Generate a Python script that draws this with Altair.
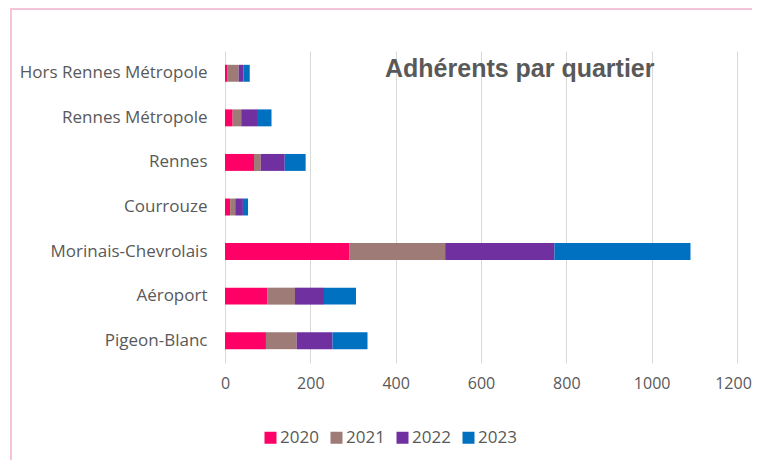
import altair as alt
import pandas as pd

quartiers = ["Hors Rennes Métropole", "Rennes Métropole", "Rennes", "Courrouze",
             "Morinais-Chevrolais", "Aéroport", "Pigeon-Blanc"]
years = ["2020", "2021", "2022", "2023"]
v2020 = [5, 18, 68, 12, 292, 99, 96]
v2021 = [27, 20, 16, 12, 224, 65, 72]
v2022 = [11, 37, 56, 18, 256, 68, 84]
v2023 = [15, 34, 49, 12, 319, 75, 82]
colors = ["#FF0066", "#9E7B76", "#7030A0", "#0070C0"]
x_ticks = [0, 200, 400, 600, 800, 1000, 1200]
title_text = ["Adhérents par quartier"]

rows = []
for yi, (y, vals) in enumerate(zip(years, [v2020, v2021, v2022, v2023])):
    for q, v in zip(quartiers, vals):
        rows.append({"quartier": q, "annee": y, "valeur": v, "ordre": yi})
df = pd.DataFrame(rows)

GRAY = "#595959"
PINK = "#F5C4D8"
FONT = "Open Sans"
W, H = 512, 312
PAD_R = 15

bars = alt.Chart(df).mark_bar().encode(
    y=alt.Y("quartier:N", sort=quartiers, title=None,
            scale=alt.Scale(paddingInner=0.62, paddingOuter=0.31),
            axis=alt.Axis(ticks=False, domain=False, grid=False, labelFontSize=17,
                          labelColor=GRAY, labelFont=FONT, labelPadding=18,
                          labelLimit=300)),
    x=alt.X("valeur:Q", stack="zero", title=None,
            scale=alt.Scale(domain=[0, 1200], nice=False),
            axis=alt.Axis(values=x_ticks, format="d", ticks=False, domain=False,
                          grid=True, gridColor="#D9D9D9", gridWidth=1,
                          labelFontSize=16, labelColor=GRAY, labelFont=FONT,
                          labelPadding=12, labelFlush=False,
                          labelOffset={"condition": {"test": "datum.value == 1200", "value": -4},
                                       "value": 0})),
    color=alt.Color("annee:N", scale=alt.Scale(domain=years, range=colors),
                    legend=alt.Legend(title=None, orient="none", direction="horizontal",
                                      legendX=37, legendY=378, symbolType="square",
                                      symbolSize=144, symbolStrokeWidth=0,
                                      labelFontSize=17, labelColor=GRAY,
                                      labelFont=FONT, columnPadding=9,
                                      labelOffset=1)),
    order=alt.Order("ordre:Q"),
)

title = alt.Chart(pd.DataFrame({"t": title_text})).mark_text(
    align="left", baseline="alphabetic", fontSize=25, font="Liberation Sans",
    fontWeight="bold", color=GRAY
).encode(text="t:N", x=alt.value(160), y=alt.value(26))

frame_top = alt.Chart(pd.DataFrame({"k": [0]})).mark_rule(
    color=PINK, strokeWidth=2
).encode(x=alt.value(-215), x2=alt.value(W + PAD_R), y=alt.value(-42))

frame_left = alt.Chart(pd.DataFrame({"k": [0]})).mark_rule(
    color=PINK, strokeWidth=2
).encode(x=alt.value(-214), y=alt.value(-43), y2=alt.value(H + 97))

chart = alt.layer(frame_top, frame_left, bars, title).properties(
    width=W, height=H,
    padding={"left": 217, "top": 43, "right": PAD_R, "bottom": 97},
    autosize=alt.AutoSizeParams(type="none"),
).configure_view(stroke=None)

chart.save("out.html", embed_options={"renderer": "svg", "actions": False})
